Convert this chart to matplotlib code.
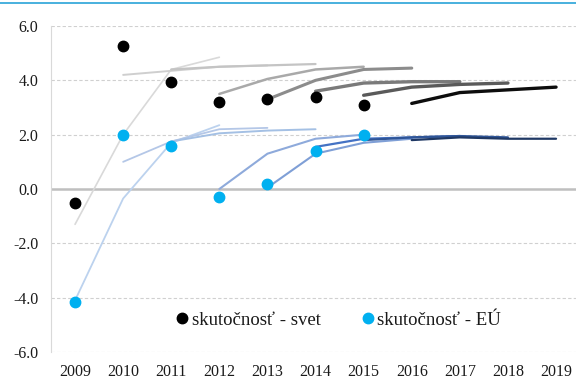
import matplotlib
matplotlib.use("Agg")
import matplotlib.pyplot as plt  # gráficas
from matplotlib.lines import Line2D

# años del eje x
years = list(range(2009, 2020))

# skutočnosť (valores reales)
actual_years = [2009, 2010, 2011, 2012, 2013, 2014, 2015]
actual_world = [-0.5, 5.25, 3.95, 3.2, 3.3, 3.4, 3.1]
actual_eu = [-4.15, 2.0, 1.6, -0.3, 0.2, 1.4, 2.0]

# prognózy sveta: cada año de publicación cubre 4 años
world_2009 = [-1.3, 2.0, 4.4, 4.85]
world_2010 = [4.2, 4.35, 4.5, 4.55]
world_2011 = [4.4, 4.5, 4.55, 4.6]
world_2012 = [3.5, 4.05, 4.4, 4.5]
world_2013 = [3.3, 4.0, 4.4, 4.45]
world_2014 = [3.6, 3.9, 3.95, 3.95]
world_2015 = [3.45, 3.75, 3.85, 3.9]
world_2016 = [3.15, 3.55, 3.65, 3.75]

# prognózy EÚ
eu_2009 = [-4.1, -0.35, 1.7, 2.35]
eu_2010 = [1.0, 1.75, 2.2, 2.25]
eu_2011 = [1.75, 2.05, 2.15, 2.2]
eu_2012 = [0.0, 1.3, 1.85, 2.0]
eu_2013 = [0.05, 1.3, 1.7, 1.85]
eu_2014 = [1.55, 1.85, 1.9, 1.95]
eu_2015 = [1.8, 1.9, 1.95, 1.9]
eu_2016 = [1.8, 1.9, 1.85, 1.85]

world_runs = [world_2009, world_2010, world_2011, world_2012,
              world_2013, world_2014, world_2015, world_2016]
eu_runs = [eu_2009, eu_2010, eu_2011, eu_2012,
           eu_2013, eu_2014, eu_2015, eu_2016]
run_start = [2009, 2010, 2011, 2012, 2013, 2014, 2015, 2016]

y_ticks = [-6.0, -4.0, -2.0, 0.0, 2.0, 4.0, 6.0]

world_colors = ["#d9d9d9", "#cfcfcf", "#c4c4c4", "#a9a9a9",
                "#8c8c8c", "#7a7a7a", "#5a5a5a", "#0d0d0d"]
world_widths = [1.2, 1.4, 1.6, 1.8, 2.2, 2.4, 2.4, 2.4]
eu_colors = ["#bcd2ee", "#b4c7e7", "#a4c0e4", "#8eaadb",
             "#7f9fd6", "#4472c4", "#2f5597", "#1f3864"]
eu_widths = [1.3, 1.3, 1.4, 1.5, 1.5, 1.6, 1.6, 1.6]


def main():
    plt.rcParams["font.family"] = ["Liberation Serif", "DejaVu Serif"]
    fig = plt.figure(figsize=(5.76, 3.80), dpi=100)
    # posición de los ejes en píxeles convertida a fracciones
    ax = fig.add_axes([51 / 576, 28 / 380, 525 / 576, 326 / 380])

    for start, vals, c, w in zip(run_start, world_runs, world_colors, world_widths):
        xs = list(range(start, start + len(vals)))
        ax.plot(xs, vals, color=c, lw=w, solid_capstyle="round", zorder=2)
    for start, vals, c, w in zip(run_start, eu_runs, eu_colors, eu_widths):
        xs = list(range(start, start + len(vals)))
        ax.plot(xs, vals, color=c, lw=w, solid_capstyle="round", zorder=2)

    ax.plot(actual_years, actual_world, "o", color="black", ms=7.5,
            zorder=4, label="skutočnosť - svet")
    ax.plot(actual_years, actual_eu, "o", color="#00b0f0", ms=7.5,
            zorder=4, label="skutočnosť - EÚ")

    ax.set_xlim(2008.5, 2008.5 + 525 / 48.1)
    ax.set_ylim(-6.0, 6.0)
    ax.set_xticks(years)
    ax.set_xticklabels([str(y) for y in years])
    ax.set_yticks(y_ticks)
    ax.set_yticklabels([f"{v:.1f}" for v in y_ticks])

    # cuadrícula discontinua y línea del cero
    for v in y_ticks:
        if v != 0.0:
            ax.axhline(v, color="#d0d0d0", lw=0.8, ls=(0, (3, 2)), zorder=0)
    ax.axhline(0.0, color="#bfbfbf", lw=1.8, zorder=1)

    for s in ["top", "right", "bottom"]:
        ax.spines[s].set_visible(False)
    ax.spines["left"].set_color("#d9d9d9")
    ax.spines["left"].set_linewidth(0.8)
    ax.tick_params(axis="both", length=0, labelsize=11.5, colors="#1a1a1a")
    ax.tick_params(axis="x", pad=9)
    ax.tick_params(axis="y", pad=9)

    leg = fig.legend(loc="center", bbox_to_anchor=(0.585, 0.158), ncol=2,
                     frameon=False, fontsize=13.5, handletextpad=0.0,
                     columnspacing=2.0, markerscale=1.0, handlelength=1.0)
    for t in leg.get_texts():
        t.set_color("#1a1a1a")

    # línea azul del título (recortada arriba)
    fig.add_artist(Line2D([0, 1], [1 - 3 / 380, 1 - 3 / 380],
                          transform=fig.transFigure, color="#29a3d8", lw=1.2))

    fig.savefig("out.png", dpi=100)


if __name__ == "__main__":
    main()
